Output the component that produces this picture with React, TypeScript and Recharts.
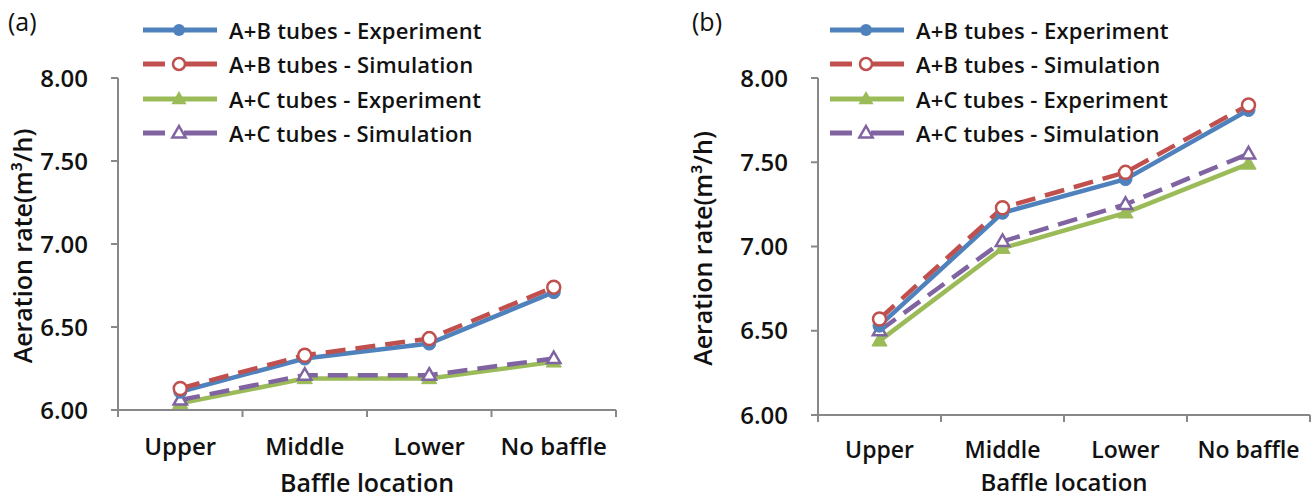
import React from 'react';
import { LineChart, Line, XAxis, YAxis, Legend, Label } from 'recharts';

const categories = ['Upper', 'Middle', 'Lower', 'No baffle'];
const yTicks = [6.0, 6.5, 7.0, 7.5, 8.0];

// Panel (a)
const aABExp = [6.11, 6.31, 6.40, 6.71];
const aABSim = [6.13, 6.33, 6.43, 6.74];
const aACExp = [6.04, 6.19, 6.19, 6.29];
const aACSim = [6.06, 6.21, 6.21, 6.31];

// Panel (b)
const bABExp = [6.53, 7.20, 7.40, 7.81];
const bABSim = [6.57, 7.23, 7.44, 7.84];
const bACExp = [6.44, 6.99, 7.20, 7.49];
const bACSim = [6.50, 7.03, 7.25, 7.55];

const seriesNames = [
  'A+B tubes - Experiment',
  'A+B tubes - Simulation',
  'A+C tubes - Experiment',
  'A+C tubes - Simulation',
];

const BLUE = '#4F81BD';
const RED = '#C0504D';
const GREEN = '#9BBB59';
const PURPLE = '#8064A2';
const AXIS = '#888888';
const FONT = '"Open Sans", "DejaVu Sans", sans-serif';

const build = (s1: number[], s2: number[], s3: number[], s4: number[]) =>
  categories.map((c, i) => ({ cat: c, abExp: s1[i], abSim: s2[i], acExp: s3[i], acSim: s4[i] }));

const dataA = build(aABExp, aABSim, aACExp, aACSim);
const dataB = build(bABExp, bABSim, bACExp, bACSim);

const CircleFilled = (props: any) => {
  const { cx, cy } = props;
  if (cx == null || cy == null) return null;
  return <circle cx={cx} cy={cy} r={6.5} fill={BLUE} stroke={BLUE} strokeWidth={1} />;
};
const CircleOpen = (props: any) => {
  const { cx, cy } = props;
  if (cx == null || cy == null) return null;
  return <circle cx={cx} cy={cy} r={6.5} fill="#fff" stroke={RED} strokeWidth={2.5} />;
};
const triPath = (cx: number, cy: number, s: number) =>
  `M${cx},${cy - s} L${cx + s * 0.95},${cy + s * 0.65} L${cx - s * 0.95},${cy + s * 0.65} Z`;
const TriFilled = (props: any) => {
  const { cx, cy } = props;
  if (cx == null || cy == null) return null;
  return <path d={triPath(cx, cy, 8)} fill={GREEN} stroke={GREEN} strokeWidth={1} />;
};
const TriOpen = (props: any) => {
  const { cx, cy } = props;
  if (cx == null || cy == null) return null;
  return <path d={triPath(cx, cy, 7)} fill="#fff" stroke={PURPLE} strokeWidth={2.5} />;
};

const LegendContent = () => {
  const rows = [
    { color: BLUE, dashed: false, marker: 'cf' },
    { color: RED, dashed: true, marker: 'co' },
    { color: GREEN, dashed: false, marker: 'tf' },
    { color: PURPLE, dashed: true, marker: 'to' },
  ];
  return (
    <div>
      {rows.map((r, i) => (
        <div key={i} style={{ display: 'flex', alignItems: 'center', height: 34.3 }}>
          <svg width={80} height={20} style={{ display: 'block' }}>
            {r.dashed ? (
              <g>
                <line x1={2} y1={10} x2={24} y2={10} stroke={r.color} strokeWidth={5} />
                <line x1={43} y1={10} x2={76} y2={10} stroke={r.color} strokeWidth={5} />
              </g>
            ) : (
              <line x1={2} y1={10} x2={76} y2={10} stroke={r.color} strokeWidth={5} />
            )}
            {r.marker === 'cf' && <circle cx={38} cy={10} r={6} fill={r.color} />}
            {r.marker === 'co' && <circle cx={38} cy={10} r={6} fill="#fff" stroke={r.color} strokeWidth={2.5} />}
            {r.marker === 'tf' && <path d={triPath(38, 10, 8)} fill={r.color} />}
            {r.marker === 'to' && <path d={triPath(38, 10, 7)} fill="#fff" stroke={r.color} strokeWidth={2.5} />}
          </svg>
          <span style={{ marginLeft: 8, fontFamily: FONT, fontWeight: 600, fontSize: 22, letterSpacing: 0.2, color: '#111', whiteSpace: 'nowrap' }}>
            {seriesNames[i]}
          </span>
        </div>
      ))}
    </div>
  );
};

const CatTick = (props: any) => {
  const { x, y, payload, width, visibleTicksCount, index, labelDy, fontSize } = props;
  const band = width / visibleTicksCount;
  return (
    <g>
      <line x1={x - band / 2} y1={y} x2={x - band / 2} y2={y + 7} stroke={AXIS} strokeWidth={2} />
      {index === visibleTicksCount - 1 && (
        <line x1={x + band / 2} y1={y} x2={x + band / 2} y2={y + 7} stroke={AXIS} strokeWidth={2} />
      )}
      <text x={x} y={y + labelDy} textAnchor="middle" dominantBaseline="middle" fontFamily={FONT} fontWeight={600} fontSize={fontSize} fill="#111">
        {payload.value}
      </text>
    </g>
  );
};

type PanelProps = {
  data: any[];
  width: number;
  yAxisWidth: number;
  right: number;
  xAxisHeight: number;
  labelDy: number;
  titleDy: number;
  catFont: number;
  titleFont: number;
  yLabelX: number;
  legendLeft: number;
};

const Panel = ({ data, width, yAxisWidth, right, xAxisHeight, labelDy, titleDy, catFont, titleFont, yLabelX, legendLeft }: PanelProps) => (
  <LineChart width={width} height={500} data={data} margin={{ top: 78, right, bottom: 0, left: 0 }}>
    <XAxis
      dataKey="cat"
      scale="band"
      height={xAxisHeight}
      stroke={AXIS}
      strokeWidth={2}
      tickLine={false}
      tickSize={0}
      tickMargin={0}
      interval={0}
      tick={<CatTick labelDy={labelDy} fontSize={catFont} />}
    >
      <Label
        content={({ viewBox }: any) => (
          <text x={viewBox.x + viewBox.width / 2} y={viewBox.y + titleDy} textAnchor="middle" dominantBaseline="middle" fontFamily={FONT} fontWeight={600} fontSize={titleFont} fill="#111">
            Baffle location
          </text>
        )}
      />
    </XAxis>
    <YAxis
      domain={[6, 8]}
      ticks={yTicks}
      width={yAxisWidth}
      stroke={AXIS}
      strokeWidth={2}
      tickSize={7}
      tickMargin={23}
      tickFormatter={(v: number) => v.toFixed(2)}
      tick={{ fontFamily: FONT, fontWeight: 600, fontSize: 24, fill: '#111' }}
    >
      <Label
        content={({ viewBox }: any) => {
          const cx = viewBox.x + yLabelX;
          const cy = viewBox.y + viewBox.height / 2 + 2;
          return (
            <text x={cx} y={cy} transform={`rotate(-90 ${cx} ${cy})`} textAnchor="middle" dominantBaseline="middle" fontFamily={FONT} fontWeight={600} fontSize={25} fill="#111">
              Aeration  rate(m³/h)
            </text>
          );
        }}
      />
    </YAxis>
    <Legend
      layout="horizontal"
      verticalAlign="middle"
      align="center"
      content={<LegendContent />}
      wrapperStyle={{ position: 'absolute', left: legendLeft, top: 13, width: 420 }}
    />
    <Line type="linear" dataKey="acExp" name={seriesNames[2]} stroke={GREEN} strokeWidth={4.5} dot={<TriFilled />} isAnimationActive={false} />
    <Line type="linear" dataKey="acSim" name={seriesNames[3]} stroke={PURPLE} strokeWidth={4.5} strokeDasharray="20 10" dot={<TriOpen />} isAnimationActive={false} />
    <Line type="linear" dataKey="abExp" name={seriesNames[0]} stroke={BLUE} strokeWidth={4.5} dot={<CircleFilled />} isAnimationActive={false} />
    <Line type="linear" dataKey="abSim" name={seriesNames[1]} stroke={RED} strokeWidth={4.5} strokeDasharray="20 10" dot={<CircleOpen />} isAnimationActive={false} />
  </LineChart>
);

export default function App() {
  return (
    <div style={{ position: 'absolute', left: 0, top: 0, width: 1313, height: 500, background: '#fff', overflow: 'hidden' }}>
      <div style={{ position: 'absolute', left: 8, top: 4, fontFamily: FONT, fontSize: 25, color: '#111' }}>(a)</div>
      <div style={{ position: 'absolute', left: 692, top: 4, fontFamily: FONT, fontSize: 25, color: '#111' }}>(b)</div>
      <div style={{ position: 'absolute', left: 0, top: 0 }}>
        <Panel data={dataA} width={650} yAxisWidth={118} right={34} xAxisHeight={90} labelDy={39} titleDy={75} catFont={24} titleFont={25} yLabelX={25} legendLeft={141} />
      </div>
      <div style={{ position: 'absolute', left: 680, top: 0 }}>
        <Panel data={dataB} width={633} yAxisWidth={138} right={3} xAxisHeight={85} labelDy={37} titleDy={70} catFont={23} titleFont={24} yLabelX={25} legendLeft={148} />
      </div>
    </div>
  );
}
